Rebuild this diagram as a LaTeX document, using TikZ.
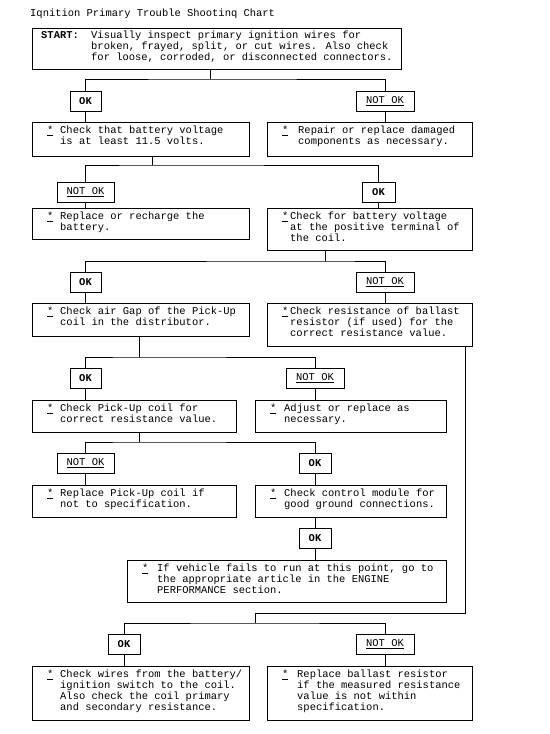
\documentclass[tikz,border=0pt]{standalone}
\usepackage{fontspec}
\setmainfont{Liberation Mono}
\begin{document}
\begin{tikzpicture}[x=1bp,y=-1bp,
  box/.style={draw,line width=0.8bp,anchor=north west,inner sep=0pt},
  txt/.style={anchor=north west,inner sep=0pt,align=left,font=\fontsize{10.5}{11}\selectfont},
  lbl/.style={draw,line width=0.8bp,minimum height=20bp,inner sep=0pt,font=\fontsize{10.5}{11}\selectfont},
  ln/.style={line width=0.8bp}]
\useasboundingbox (0,0) rectangle (550,734);
\newcommand\bx[7]{%
  \node[box,minimum width={(#4-#2)*1bp},minimum height={(#5-#3)*1bp}] (#1) at (#2,#3) {};
  \node[txt] at (#2+15,#3+4) {\underline{*}};
  \node[txt] at (#6,#3+4) {#7};}
\newcommand\lb[5]{\node[lbl,minimum width={(#3-#2)*1bp}] (#1) at ({(#2+#3)/2},#4) {#5};}

\node[txt] at (30,9) {Iqnition Primary Trouble Shootinq Chart};
\node[box,minimum width=369bp,minimum height=41bp] (start) at (32,28) {};
\node[txt] at (41,31) {\textbf{START:}};
\node[txt] at (91,31) {Visually inspect primary ignition wires for\\broken, frayed, split, or cut wires.  Also check\\for loose, corroded, or disconnected connectors.};

\lb{ok1}{70}{101}{101}{\textbf{OK}}
\lb{nok1}{356}{414}{101}{\underline{NOT OK}}
\bx{b1}{32}{122}{249}{156}{60}{Check that battery voltage\\is at least 11.5 volts.}
\bx{b2}{267}{122}{472}{156}{298}{Repair or replace damaged\\components as necessary.}

\lb{nok2}{57}{114}{192}{\underline{NOT OK}}
\lb{ok2}{362}{395}{192}{\textbf{OK}}
\bx{b3}{32}{208}{249}{239}{60}{Replace or recharge the\\battery.}
\bx{b4}{267}{208}{472}{250}{290}{Check for battery voltage\\at the positive terminal of\\the coil.}

\lb{ok3}{70}{101}{282}{\textbf{OK}}
\lb{nok3}{356}{414}{282}{\underline{NOT OK}}
\bx{b5}{32}{303}{249}{336}{60}{Check air Gap of the Pick-Up\\coil in the distributor.}
\bx{b6}{267}{303}{472}{346}{290}{Check resistance of ballast\\resistor (if used) for the\\correct resistance value.}

\lb{ok4}{70}{101}{378}{\textbf{OK}}
\lb{nok4}{286}{344}{378}{\underline{NOT OK}}
\bx{b7}{32}{400}{236}{432}{60}{Check Pick-Up coil for\\correct resistance value.}
\bx{b8}{255}{400}{446}{432}{284}{Adjust or replace as\\necessary.}

\lb{nok5}{57}{114}{463}{\underline{NOT OK}}
\lb{ok5}{299}{331}{463}{\textbf{OK}}
\bx{b9}{32}{485}{236}{517}{60}{Replace Pick-Up coil if\\not to specification.}
\bx{b10}{255}{485}{446}{517}{284}{Check control module for\\good ground connections.}

\lb{ok6}{299}{331}{538}{\textbf{OK}}
\bx{b11}{127}{560}{446}{602}{157}{If vehicle fails to run at this point, go to\\the appropriate article in the ENGINE\\PERFORMANCE section.}

\lb{ok7}{108}{140}{644}{\textbf{OK}}
\lb{nok7}{356}{414}{644}{\underline{NOT OK}}
\bx{b12}{32}{666}{249}{720}{60}{Check wires from the battery/\\ignition switch to the coil.\\Also check the coil primary\\and secondary resistance.}
\bx{b13}{267}{666}{472}{720}{297}{Replace ballast resistor\\if the measured resistance\\value is not within\\specification.}

\coordinate (j1) at (210,79);
\coordinate (j2) at (152,165);
\coordinate (j3) at (325,261);
\coordinate (j4) at (139,357);
\coordinate (j5) at (139,442);
\coordinate (r1) at (465,613);
\coordinate (j7) at (255,623);
\draw[ln] (start.south -| j1) -- (j1);
\draw[ln] (ok1.north) |- (j1) -| (nok1.north);
\draw[ln] (ok1.south) -- (ok1.south |- b1.north);
\draw[ln] (nok1.south) -- (nok1.south |- b2.north);
\draw[ln] (b1.south -| j2) -- (j2);
\draw[ln] (nok2.north) |- (j2) -| (ok2.north);
\draw[ln] (nok2.south) -- (nok2.south |- b3.north);
\draw[ln] (ok2.south) -- (ok2.south |- b4.north);
\draw[ln] (b4.south -| j3) -- (j3);
\draw[ln] (ok3.north) |- (j3) -| (nok3.north);
\draw[ln] (ok3.south) -- (ok3.south |- b5.north);
\draw[ln] (nok3.south) -- (nok3.south |- b6.north);
\draw[ln] (b5.south -| j4) -- (j4);
\draw[ln] (ok4.north) |- (j4) -| (nok4.north);
\draw[ln] (ok4.south) -- (ok4.south |- b7.north);
\draw[ln] (nok4.south) -- (nok4.south |- b8.north);
\draw[ln] (b7.south -| j5) -- (j5);
\draw[ln] (nok5.north) |- (j5) -| (ok5.north);
\draw[ln] (nok5.south) -- (nok5.south |- b9.north);
\draw[ln] (ok5.south) -- (ok5.south |- b10.north);
\draw[ln] (b10.south -| ok6.north) -- (ok6.north);
\draw[ln] (ok6.south) -- (ok6.south |- b11.north);
\draw[ln] (b6.south -| r1) -- (r1) -| (j7);
\draw[ln] (ok7.north) |- (j7) -| (nok7.north);
\draw[ln] (ok7.south) -- (ok7.south |- b12.north);
\draw[ln] (nok7.south) -- (nok7.south |- b13.north);
\end{tikzpicture}
\end{document}
